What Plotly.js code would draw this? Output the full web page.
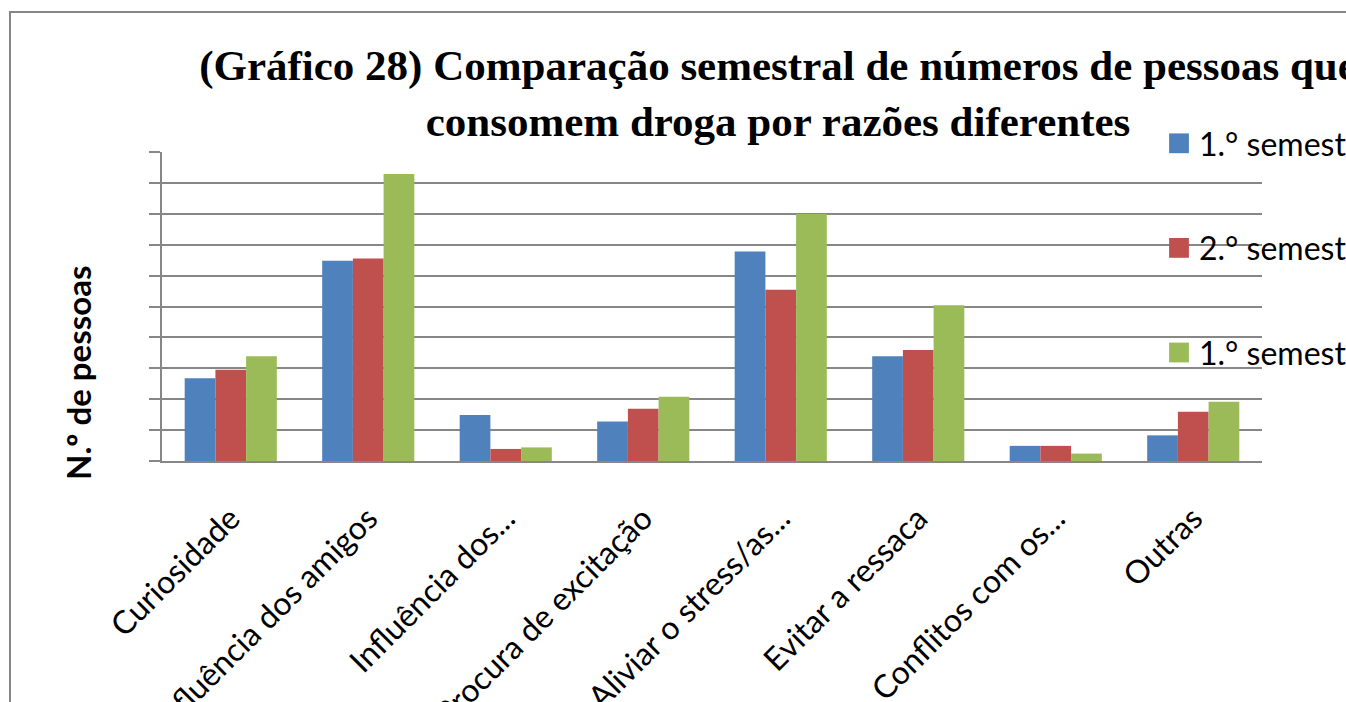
<!DOCTYPE html>
<html>
<head>
<meta charset="utf-8">
<script src="https://cdn.plot.ly/plotly-3.0.1.min.js"></script>
<style>
  html, body { margin: 0; padding: 0; overflow: hidden; background: #ffffff; width: 1346px; height: 702px; }
  #frame { position: absolute; left: 9px; top: 11px; width: 1600px; height: 900px; border: 2px solid #878787; background: #ffffff; z-index: 0; }
  #chart { position: absolute; left: 0; top: 0; width: 1556px; height: 800px; z-index: 1; }
</style>
</head>
<body>
<div id="frame"></div>
<div id="chart"></div>
<script>
// ---- data (in gridline units) ----
const categories = [
  "Curiosidade",
  "Influência dos amigos",
  "Influência dos...",
  "Procura de excitação",
  "Aliviar o stress/as...",
  "Evitar a ressaca",
  "Conflitos com os...",
  "Outras"
];
const seriesNames = ["1.° semestre", "2.° semestre", "1.° semestre "];
const semestre1 = [2.68, 6.48, 1.49, 1.28, 6.78, 3.39, 0.49, 0.83];
const semestre2 = [2.95, 6.55, 0.39, 1.69, 5.54, 3.59, 0.49, 1.59];
const semestre3 = [3.39, 9.29, 0.44, 2.08, 7.99, 5.04, 0.24, 1.92];
const seriesColors = ["#4F81BD", "#C0504D", "#9BBB59"];
const gridTicks = [0, 1, 2, 3, 4, 5, 6, 7, 8, 9, 10];

const titleLine1 = "(Gráfico 28) Comparação semestral de números de pessoas que";
const titleLine2 = "consomem droga por razões diferentes";
const yTitle = "N.º de pessoas";

const allSeries = [semestre1, semestre2, semestre3];
const traces = allSeries.map((vals, i) => ({
  type: "bar",
  name: seriesNames[i],
  x: categories,
  y: vals,
  marker: { color: seriesColors[i], line: { width: 0 } },
  legendgroup: "g" + i,
  hoverinfo: "x+y+name"
}));

const gray = "#878787";
const layout = {
  width: 1556,
  height: 800,
  margin: { l: 162, r: 294, t: 152, b: 339, pad: 0 },
  paper_bgcolor: "rgba(0,0,0,0)",
  plot_bgcolor: "rgba(0,0,0,0)",
  font: { family: "Lato, 'Open Sans', sans-serif", color: "#000000" },
  title: {
    text: titleLine1 + "<br>" + titleLine2,
    font: { family: "'Liberation Serif', 'Times New Roman', serif", size: 43, color: "#000000", weight: "bold" },
    xref: "container", x: 0.5, xanchor: "center",
    yref: "container", y: 1 - 80 / 800, yanchor: "middle"
  },
  barmode: "group",
  bargap: 0.33,
  bargroupgap: 0,
  showlegend: true,
  legend: {
    x: (1159 - 162) / 1100, xanchor: "left", xref: "paper",
    y: (461 - 116) / 309, yanchor: "top", yref: "paper",
    font: { family: "Lato, 'Open Sans', sans-serif", size: 32, color: "#000000" },
    traceorder: "grouped",
    tracegroupgap: 60,
    bgcolor: "rgba(0,0,0,0)",
    borderwidth: 0
  },
  xaxis: {
    type: "category",
    showline: true, linecolor: gray, linewidth: 2,
    ticks: "",
    tickangle: -45,
    ticklabelstandoff: 24,
    tickfont: { family: "Lato, 'Open Sans', sans-serif", size: 32, color: "#000000" },
    showgrid: false,
    zeroline: false
  },
  yaxis: {
    range: [0, 10],
    tickmode: "array",
    tickvals: gridTicks,
    showticklabels: false,
    ticks: "outside", ticklen: 11, tickwidth: 2, tickcolor: gray,
    showgrid: true, gridcolor: gray, gridwidth: 2,
    showline: true, linecolor: gray, linewidth: 2,
    zeroline: false
  },
  annotations: [{
    text: "<b>" + yTitle + "</b>",
    textangle: -90,
    xref: "paper", yref: "paper",
    x: (78 - 162) / 1100, y: (461 - 373) / 309,
    xanchor: "center", yanchor: "middle",
    showarrow: false,
    font: { family: "Lato, 'Open Sans', sans-serif", size: 33, color: "#000000" }
  }]
};

Plotly.newPlot("chart", traces, layout, { displayModeBar: false, staticPlot: true }).then(() => {
  document.querySelectorAll("#chart .legend .legendpoints path").forEach(p => {
    const t = p.getAttribute("transform") || "";
    p.setAttribute("transform", (t + " scale(1.65)").trim());
  });
});
</script>
</body>
</html>
